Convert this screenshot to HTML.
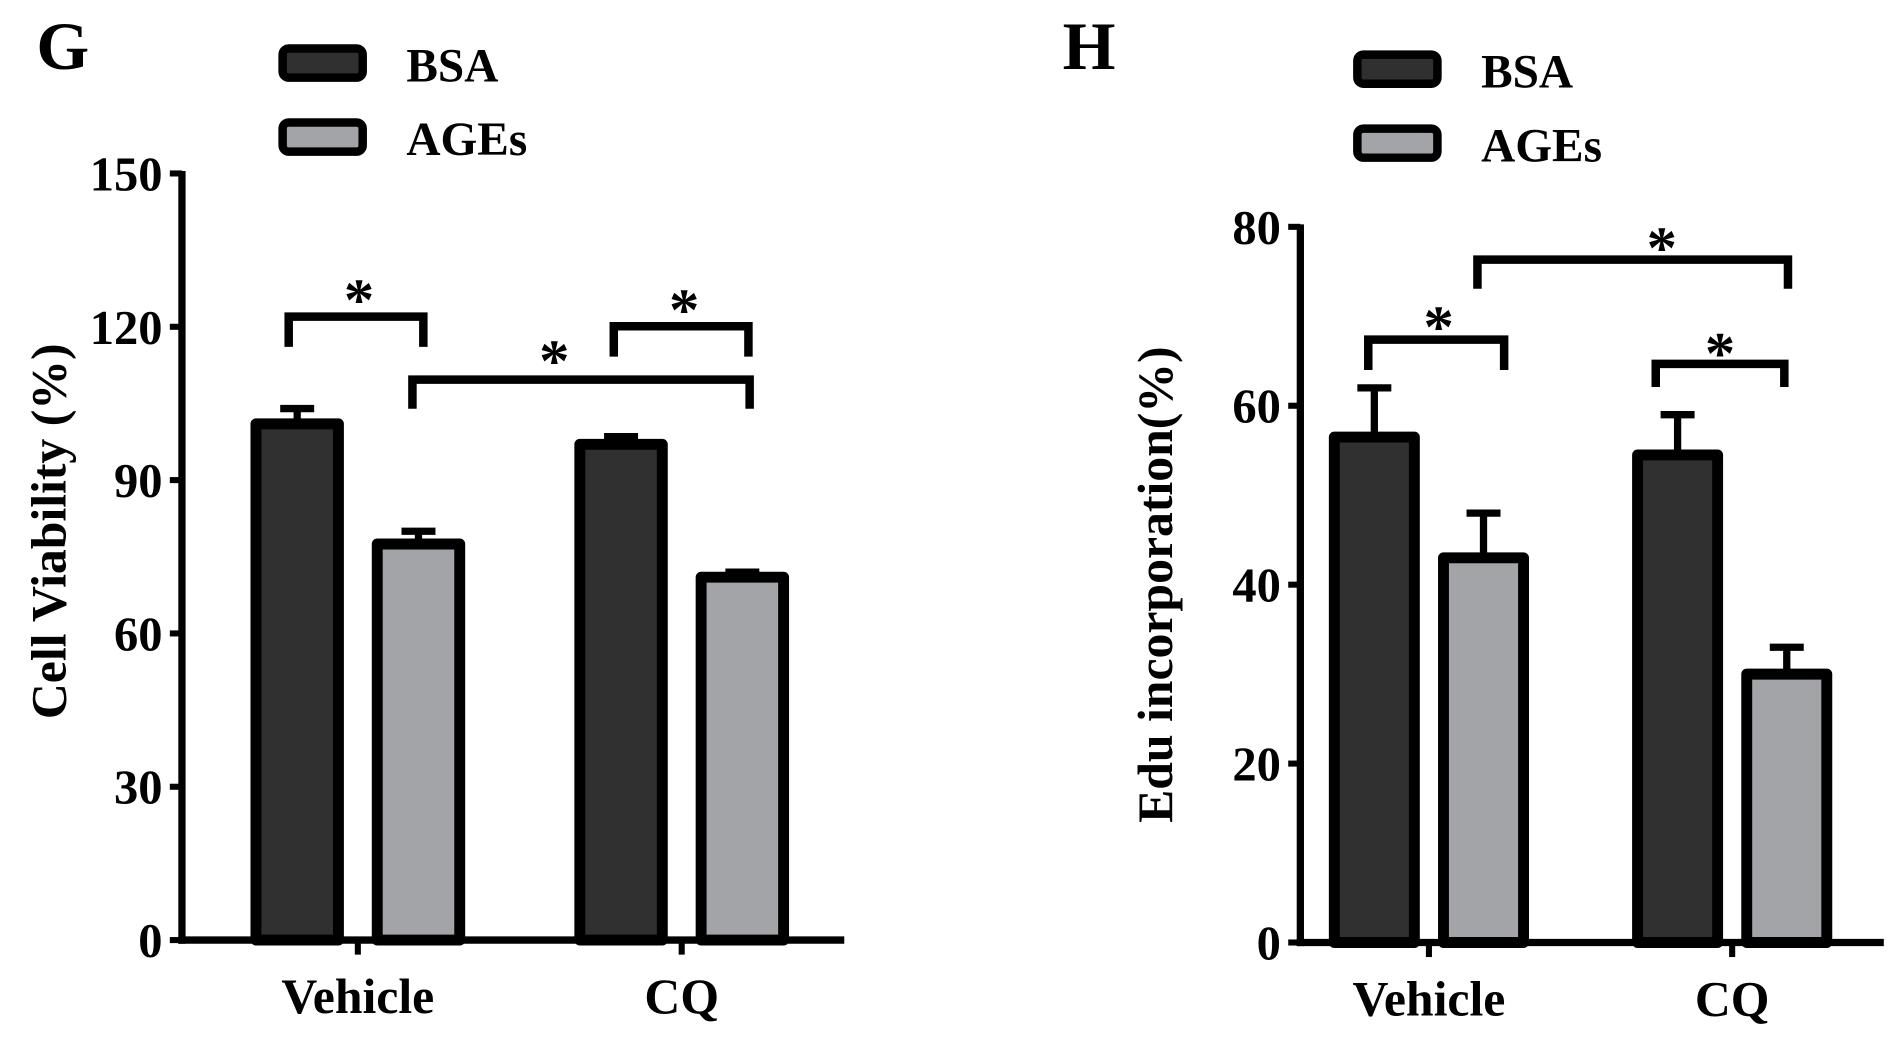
<!DOCTYPE html>
<html><head><meta charset="utf-8"><style>
html,body{margin:0;padding:0;background:#fff;}
svg{display:block;}
text{font-family:"Liberation Serif",serif;font-weight:bold;fill:#000;}
</style></head><body>
<svg id="fig" width="1902" height="1045" viewBox="0 0 1568 861.5" preserveAspectRatio="none" xmlns="http://www.w3.org/2000/svg"></svg>
<script>
const categories = ["Vehicle", "CQ"];
const seriesNames = ["BSA", "AGEs"];
const gBsa = [101, 97];
const gBsaErr = [3, 1.5];
const gAges = [77.5, 71];
const gAgesErr = [2.5, 1];
const gTicks = [0, 30, 60, 90, 120, 150];
const hBsa = [56.5, 54.5];
const hBsaErr = [5.5, 4.5];
const hAges = [43, 30];
const hAgesErr = [5, 3];
const hTicks = [0, 20, 40, 60, 80];

const NS = "http://www.w3.org/2000/svg";
const svg = document.getElementById("fig");
function mk(tag, attrs, parent, txt) {
  const e = document.createElementNS(NS, tag);
  for (const k in attrs) e.setAttribute(k, attrs[k]);
  if (txt !== undefined) e.textContent = txt;
  (parent || svg).appendChild(e);
  return e;
}
const DARK = "#303030", GRAY = "#a3a4a8";

function panel(cfg) {
  const g = mk("g", {});
  
  
  const y = v => cfg.y0 + (cfg.y1 - cfg.y0) * v / cfg.vmax;
  const L = mk("text", {x: cfg.letterX, y: 57, "font-size": 56}, g, cfg.letter);
  
  
  const colors = [DARK, GRAY];
  seriesNames.forEach((s, i) => {
    const le = mk("g", {}, g);
    
    
    const ly = cfg.legY + i * 61;
    mk("rect", {x: cfg.legX, y: ly, width: 66, height: 24, rx: 5, fill: colors[i], stroke: "#000", "stroke-width": 7}, le);
    mk("text", {x: cfg.legX + 102, y: ly + 27, "font-size": 39}, le, s);
  });
  cfg.ticks.forEach(t => {
    const tg = mk("g", {}, g);
    
    
    mk("line", {x1: cfg.x0 - 10, x2: cfg.x0, y1: y(t), y2: y(t), stroke: "#000", "stroke-width": 5}, tg);
    mk("text", {x: cfg.x0 - 16, y: y(t) + 14, "font-size": 40, "text-anchor": "end"}, tg, String(t));
  });
  const ya = mk("line", {x1: cfg.x0, x2: cfg.x0, y1: y(cfg.vmax) - 2, y2: cfg.y0 + 3, stroke: "#000", "stroke-width": 6}, g);
  
  
  const xa = mk("line", {x1: cfg.x0 - 3, x2: cfg.xEnd, y1: cfg.y0, y2: cfg.y0, stroke: "#000", "stroke-width": 6}, g);
  
  
  const yt = mk("text", {x: 0, y: 0, "font-size": 41, "text-anchor": "middle", transform: `translate(${cfg.titleX},${cfg.titleY}) rotate(-90)`}, g, cfg.title);
  
  
  categories.forEach((c, ci) => {
    const cx = cfg.catX[ci];
    mk("line", {x1: cx, x2: cx, y1: cfg.y0, y2: cfg.y0 + 12, stroke: "#000", "stroke-width": 5}, g);
    const cl = mk("text", {x: cx, y: cfg.y0 + 60, "font-size": 41, "text-anchor": "middle"}, g, c);
    
    
    [[cfg.bsa, cfg.bsaErr, DARK, -1], [cfg.ages, cfg.agesErr, GRAY, 1]].forEach(([vals, errs, col, side], si) => {
      const bx = cx + side * cfg.off - cfg.bw / 2;
      const bg = mk("g", {}, g);
      
      
      const top = y(vals[ci]), et = y(vals[ci] + errs[ci]);
      mk("line", {x1: bx + cfg.bw / 2, x2: bx + cfg.bw / 2, y1: top, y2: et, stroke: "#000", "stroke-width": 6}, bg);
      mk("line", {x1: bx + cfg.bw / 2 - 14, x2: bx + cfg.bw / 2 + 14, y1: et, y2: et, stroke: "#000", "stroke-width": 6}, bg);
      mk("rect", {x: bx, y: top, width: cfg.bw, height: cfg.y0 - top, fill: col, stroke: "#000", "stroke-width": 9, "stroke-linejoin": "round"}, bg);
    });
  });
  cfg.brackets.forEach((b, i) => {
    const sg = mk("g", {}, g);
    
    
    mk("polyline", {points: `${b[0]},${b[3]} ${b[0]},${b[2]} ${b[1]},${b[2]} ${b[1]},${b[3]}`, fill: "none", stroke: "#000", "stroke-width": 7}, sg);
    mk("text", {x: b[4], y: b[5] + 28, "font-size": 50, "text-anchor": "middle"}, sg, "*");
  });
}

panel({name: "panel-g-cell-viability", letter: "G", letterX: 30, legX: 233, legY: 40,
  x0: 150, xEnd: 696, y0: 775, y1: 143, vmax: 150, ticks: gTicks,
  title: "Cell Viability (%)", titleX: 54, titleY: 438,
  catX: [295, 562], off: 50, bw: 68, bsa: gBsa, bsaErr: gBsaErr, ages: gAges, agesErr: gAgesErr,
  brackets: [[238, 349, 261, 286, 296, 236], [340, 618, 313, 337, 457, 286], [506, 617, 269, 294, 564, 244]]});

panel({name: "panel-h-edu-incorporation", letter: "H", letterX: 876, legX: 1119, legY: 45,
  x0: 1072, xEnd: 1553, y0: 777, y1: 187, vmax: 80, ticks: hTicks,
  title: "Edu incorporation(%)", titleX: 966, titleY: 482,
  catX: [1178, 1428], off: 45, bw: 66, bsa: hBsa, bsaErr: hBsaErr, ages: hAges, agesErr: hAgesErr,
  brackets: [[1128, 1240, 280, 305, 1186, 258], [1218, 1474, 214, 238, 1370, 193], [1365, 1471, 300, 319, 1418, 280]]});
</script>
</body></html>
